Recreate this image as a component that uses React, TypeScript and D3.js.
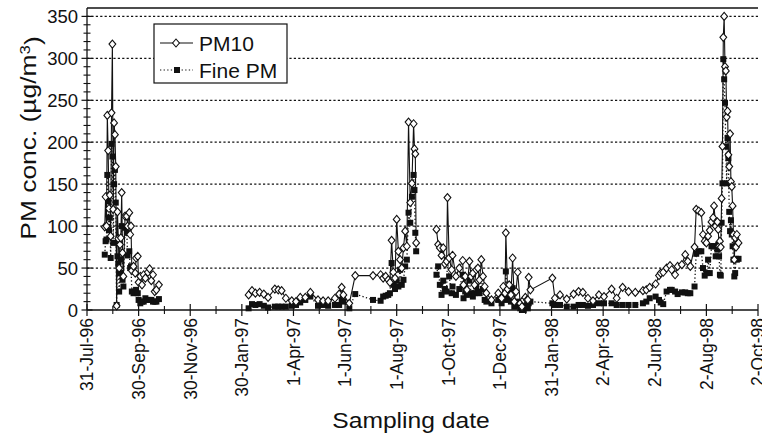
import { useEffect, useRef } from "react";
import * as d3 from "d3";

// sampling dates (null values = no sampling / break in the lines)
const sampleDates = [
  // 1996
  "1996-08-21", "1996-08-22", "1996-08-23", "1996-08-24", "1996-08-25", "1996-08-26", "1996-08-27", "1996-08-28", "1996-08-29", "1996-08-30",
  "1996-08-31", "1996-09-01", "1996-09-02", "1996-09-03", "1996-09-04", "1996-09-05", "1996-09-06", "1996-09-07", "1996-09-08", "1996-09-09",
  "1996-09-10", "1996-09-11", "1996-09-12", "1996-09-14", "1996-09-16", "1996-09-17", "1996-09-19", "1996-09-20", "1996-09-21", "1996-09-22",
  "1996-09-24", "1996-09-26", "1996-09-27", "1996-09-29", "1996-09-30", "1996-10-02", "1996-10-04", "1996-10-06", "1996-10-08", "1996-10-11",
  "1996-10-13", "1996-10-15", "1996-10-17", "1996-10-19", "1996-10-21", "1996-10-24", "1996-12-01",
  // 1997
  "1997-02-07", "1997-02-11", "1997-02-15", "1997-02-20", "1997-02-25", "1997-03-02", "1997-03-10", "1997-03-14", "1997-03-18", "1997-03-23",
  "1997-03-30", "1997-04-04", "1997-04-09", "1997-04-15", "1997-04-21", "1997-04-30", "1997-05-06", "1997-05-12", "1997-05-20", "1997-05-25",
  "1997-05-28", "1997-05-30", "1997-06-06", "1997-06-13", "1997-07-04", "1997-07-13", "1997-07-16", "1997-07-19", "1997-07-22", "1997-07-24",
  "1997-07-26", "1997-07-28", "1997-07-30", "1997-08-01", "1997-08-03", "1997-08-05", "1997-08-07", "1997-08-09", "1997-08-11", "1997-08-13",
  "1997-08-15", "1997-08-17", "1997-08-19", "1997-08-21", "1997-08-22", "1997-08-23", "1997-08-24", "1997-09-05",
  // autumn 1997 - winter 1998
  "1997-09-17", "1997-09-19", "1997-09-21", "1997-09-23", "1997-09-25", "1997-09-27", "1997-09-29", "1997-09-30", "1997-10-02", "1997-10-05",
  "1997-10-06", "1997-10-10", "1997-10-14", "1997-10-18", "1997-10-19", "1997-10-21", "1997-10-23", "1997-10-26", "1997-10-28", "1997-10-30",
  "1997-11-01", "1997-11-03", "1997-11-05", "1997-11-07", "1997-11-09", "1997-11-11", "1997-11-13", "1997-11-15", "1997-11-21", "1997-11-29",
  "1997-12-03", "1997-12-05", "1997-12-07", "1997-12-08", "1997-12-10", "1997-12-12", "1997-12-14", "1997-12-16", "1997-12-18", "1997-12-20",
  "1997-12-22", "1997-12-25", "1997-12-27", "1997-12-29", "1997-12-31", "1998-01-02", "1998-01-03", "1998-01-04", "1998-01-06",
  // 1998
  "1998-02-01", "1998-02-04", "1998-02-10", "1998-02-18", "1998-02-26", "1998-03-04", "1998-03-09", "1998-03-15", "1998-03-21", "1998-03-28",
  "1998-04-03", "1998-04-12", "1998-04-18", "1998-04-25", "1998-05-02", "1998-05-10", "1998-05-19", "1998-05-23", "1998-05-27", "1998-06-03",
  "1998-06-07", "1998-06-09", "1998-06-12", "1998-06-16", "1998-06-20", "1998-06-22", "1998-06-26", "1998-06-29", "1998-07-04", "1998-07-08",
  "1998-07-11", "1998-07-14", "1998-07-19", "1998-07-21", "1998-07-24", "1998-07-27", "1998-07-29", "1998-07-31", "1998-08-02", "1998-08-04",
  "1998-08-06", "1998-08-08", "1998-08-10", "1998-08-11", "1998-08-13", "1998-08-15", "1998-08-16", "1998-08-17", "1998-08-18", "1998-08-19",
  "1998-08-20", "1998-08-21", "1998-08-22", "1998-08-23", "1998-08-24", "1998-08-25", "1998-08-26", "1998-08-27", "1998-08-28", "1998-08-29",
  "1998-08-30", "1998-08-31", "1998-09-01", "1998-09-02", "1998-09-03", "1998-09-04", "1998-09-05", "1998-09-06", "1998-09-07", "1998-09-09",
];

const pm10Values = [
  // 1996
  99, 135, 100, 232, 190, 121, 137, 88, 235, 317,
  120, 223, 209, 171, 5, 117, 85, 50, 78, 86,
  140, 68, 40, 112, 112, 100, 116, 90, 100, 47,
  52, 44, 62, 64, 33, 40, 30, 42, 38, 45,
  49, 35, 42, 22, 24, 30, null,
  // 1997
  18, 23, 20, 21, 19, 15, 25, 24, 23, 14,
  11, 10, 15, 15, 21, 12, 11, 11, 14, 19,
  27, 18, 8, 41, 41, 42, 38, 40, 36, 33,
  83, 45, 38, 108, 70, 60, 50, 74, 94, 76,
  224, 128, 151, 222, 192, 186, 80, null,
  // autumn 1997 - winter 1998
  96, 78, 74, 65, 74, 55, 58, 134, 62, 48,
  65, 40, 50, 59, 30, 40, 24, 58, 40, 44,
  30, 48, 50, 36, 60, 40, 28, 20, 12, 20,
  14, 28, 20, 92, 25, 30, 18, 62, 10, 22,
  45, 8, 4, 12, 15, 12, 12, 39, 24,
  // 1998
  38, 14, 18, 13, 19, 22, 21, 14, 11, 18,
  16, 25, 14, 27, 22, 21, 23, 24, 27, 31,
  41, 44, 45, 50, 53, 48, 42, 52, 54, 66,
  58, 52, 75, 120, 118, 116, 90, 82, 80, 88,
  95, 105, 110, 124, 100, 105, 96, 76, 82, 75,
  133, 195, 325, 350, 290, 285, 230, 237, 185, 171,
  210, 153, 147, 124, 90, 60, 86, 75, 90, 80,
];

const finePMValues = [
  // 1996
  66, 82, 84, 161, 130, 95, 110, 62, 198, 183,
  80, 150, 167, 128, 6, 64, 55, 22, 44, 60,
  100, 36, 28, 98, 92, 65, 70, 50, 52, 22,
  20, 22, 24, 20, 12, 8, 10, 10, 14, 12,
  12, 12, 10, 10, 10, 13, null,
  // 1997
  2, 7, 6, 7, 5, 3, 4, 4, 4, 4,
  5, 6, 9, 12, 16, 5, 6, 5, 6, 6,
  12, 10, 2, 19, 12, 11, 16, 17, 18, 20,
  56, 30, 25, 35, 28, 48, 30, 36, 52, 60,
  116, 104, 135, 161, 143, 92, 70, null,
  // autumn 1997 - winter 1998
  42, 52, 30, 18, 35, 25, 22, 60, 40, 20,
  28, 18, 25, 42, 14, 22, 18, 35, 20, 16,
  20, 28, 22, 20, 38, 25, 12, 10, 8, 12,
  8, 16, 12, 46, 14, 20, 10, 26, 4, 5,
  10, 2, 0, 0, 5, 8, 2, 8, 10,
  // 1998
  8, 6, 6, 4, 4, 6, 6, 5, 6, 8,
  8, 8, 6, 6, 6, 6, 8, 10, 14, 16,
  12, 9, 7, 22, 24, 24, 22, 19, 21, 21,
  20, 20, 28, 67, 70, 70, 50, 41, 44, 60,
  44, 76, 76, 76, 64, 72, 78, 64, 42, 41,
  104, 151, 299, 275, 247, 195, 151, 205, 181, 117,
  94, 107, 90, 76, 60, 40, 44, 61, 60, 61,
];

const xTickDates = [
  "1996-07-31", "1996-09-30", "1996-11-30", "1997-01-30", "1997-04-01", "1997-06-01", "1997-08-01",
  "1997-10-01", "1997-12-01", "1998-01-31", "1998-04-02", "1998-06-02", "1998-08-02", "1998-10-02",
];
const xTickLabels = [
  "31-Jul-96", "30-Sep-96", "30-Nov-96", "30-Jan-97", "1-Apr-97", "1-Jun-97", "1-Aug-97",
  "1-Oct-97", "1-Dec-97", "31-Jan-98", "2-Apr-98", "2-Jun-98", "2-Aug-98", "2-Oct-98",
];
const yTicks = [0, 50, 100, 150, 200, 250, 300, 350];
const seriesNames = ["PM10", "Fine PM"];

const FONT = "'Liberation Sans', Arial, Helvetica, sans-serif";

export default function App() {
  const ref = useRef<SVGSVGElement>(null);

  useEffect(() => {
    const width = 762, height = 438;
    const marginLeft = 87, plotRight = 758, plotTop = 8, plotBottom = 310;

    const svg = d3.select(ref.current);
    svg.selectAll("*").remove();
    svg.attr("width", width).attr("height", height).attr("viewBox", `0 0 ${width} ${height}`);

    const parse = d3.utcParse("%Y-%m-%d");
    const tickDates = xTickDates.map(d => parse(d) as Date);

    const x = d3.scaleUtc()
      .domain([tickDates[0], tickDates[tickDates.length - 1]])
      .range([marginLeft, plotRight]);
    const y = d3.scaleLinear().domain([0, 360]).range([plotBottom, plotTop]);

    const rows = sampleDates.map((d, i) => ({
      date: parse(d) as Date,
      pm10: pm10Values[i],
      fine: finePMValues[i],
    }));

    svg.append("rect").attr("width", width).attr("height", height).attr("fill", "white");

    // dotted grid lines
    svg.append("g")
      .selectAll("line")
      .data(yTicks.filter(t => t > 0))
      .join("line")
        .attr("x1", marginLeft).attr("x2", plotRight)
        .attr("y1", d => y(d)).attr("y2", d => y(d))
        .attr("stroke", "#111").attr("stroke-width", 1.3)
        .attr("stroke-dasharray", "2.2,2.2");

    // frame: top line
    svg.append("line")
      .attr("x1", marginLeft).attr("x2", plotRight)
      .attr("y1", plotTop).attr("y2", plotTop)
      .attr("stroke", "#111").attr("stroke-width", 1.3);

    // y axis
    const yAxis = svg.append("g");
    yAxis.append("line")
      .attr("x1", marginLeft).attr("x2", marginLeft)
      .attr("y1", plotTop).attr("y2", plotBottom)
      .attr("stroke", "#111").attr("stroke-width", 1.3);
    yAxis.selectAll("line.minor")
      .data(d3.range(10, 351, 10).filter(v => v % 50 !== 0))
      .join("line")
        .attr("class", "minor")
        .attr("x1", marginLeft - 3.5).attr("x2", marginLeft + 3.5)
        .attr("y1", d => y(d)).attr("y2", d => y(d))
        .attr("stroke", "#111").attr("stroke-width", 1.1);
    yAxis.selectAll("line.major")
      .data(yTicks)
      .join("line")
        .attr("class", "major")
        .attr("x1", marginLeft - 5.5).attr("x2", marginLeft + 5.5)
        .attr("y1", d => y(d)).attr("y2", d => y(d))
        .attr("stroke", "#111").attr("stroke-width", 1.2);
    yAxis.selectAll("text")
      .data(yTicks)
      .join("text")
        .attr("x", 78)
        .attr("y", d => y(d))
        .attr("dy", "0.36em")
        .attr("text-anchor", "end")
        .attr("font-family", FONT)
        .attr("font-size", 18.5)
        .attr("fill", "#111")
        .text(d => d);

    // x axis
    const xAxis = svg.append("g");
    xAxis.append("line")
      .attr("x1", marginLeft).attr("x2", plotRight)
      .attr("y1", plotBottom).attr("y2", plotBottom)
      .attr("stroke", "#111").attr("stroke-width", 1.3);
    const minorX = tickDates.slice(1).map((d, i) => (x(tickDates[i]) + x(d)) / 2);
    xAxis.selectAll("line.minor")
      .data(minorX)
      .join("line")
        .attr("class", "minor")
        .attr("x1", d => d).attr("x2", d => d)
        .attr("y1", plotBottom - 4).attr("y2", plotBottom + 4)
        .attr("stroke", "#111").attr("stroke-width", 1.1);
    xAxis.selectAll("line.major")
      .data(tickDates)
      .join("line")
        .attr("class", "major")
        .attr("x1", d => x(d)).attr("x2", d => x(d))
        .attr("y1", plotBottom - 6).attr("y2", plotBottom + 6)
        .attr("stroke", "#111").attr("stroke-width", 1.2);
    xAxis.selectAll("text")
      .data(tickDates)
      .join("text")
        .attr("transform", d => `translate(${x(d)},${plotBottom + 8})rotate(-90)`)
        .attr("dy", "0.36em")
        .attr("text-anchor", "end")
        .attr("font-family", FONT)
        .attr("font-size", 17.5)
        .attr("fill", "#111")
        .text((_, i) => xTickLabels[i]);

    // axis titles (the scanned font is wider than Arial)
    svg.append("text")
      .attr("transform", `translate(36,138)rotate(-90)scale(1.2,1)`)
      .attr("text-anchor", "middle")
      .attr("font-family", FONT)
      .attr("font-size", 22)
      .attr("fill", "#111")
      .call(t => {
        t.append("tspan").text("PM conc. (µg/m");
        t.append("tspan").attr("dy", "-0.45em").attr("font-size", 14).text("3");
        t.append("tspan").attr("dy", "0.45em").text(")");
      });
    svg.append("text")
      .attr("transform", "translate(411,428)scale(1.12,1)")
      .attr("text-anchor", "middle")
      .attr("font-family", FONT)
      .attr("font-size", 22)
      .attr("fill", "#111")
      .text("Sampling date");

    // series
    const fineLine = d3.line<any>()
      .defined(d => d.fine !== null)
      .x(d => x(d.date)).y(d => y(d.fine));
    const pmLine = d3.line<any>()
      .defined(d => d.pm10 !== null)
      .x(d => x(d.date)).y(d => y(d.pm10));

    const diamond = (r: number) => `M0,${-r}L${r * 0.85},0L0,${r}L${-r * 0.85},0Z`;

    svg.append("path")
      .datum(rows)
      .attr("d", fineLine)
      .attr("fill", "none")
      .attr("stroke", "#111").attr("stroke-width", 1.3)
      .attr("stroke-dasharray", "1.3,2.3");
    svg.append("g")
      .selectAll("rect")
      .data(rows.filter(d => d.fine !== null))
      .join("rect")
        .attr("x", d => x(d.date) - 3)
        .attr("y", d => y(d.fine as number) - 3)
        .attr("width", 6).attr("height", 6)
        .attr("fill", "#111");

    svg.append("path")
      .datum(rows)
      .attr("d", pmLine)
      .attr("fill", "none")
      .attr("stroke", "#111").attr("stroke-width", 1.1);
    svg.append("g")
      .selectAll("path")
      .data(rows.filter(d => d.pm10 !== null))
      .join("path")
        .attr("transform", d => `translate(${x(d.date)},${y(d.pm10 as number)})`)
        .attr("d", diamond(4))
        .attr("fill", "white")
        .attr("stroke", "#111").attr("stroke-width", 1.1);

    // legend
    const legend = svg.append("g");
    legend.append("rect")
      .attr("x", 154).attr("y", 24).attr("width", 133).attr("height", 59)
      .attr("fill", "white").attr("stroke", "#111").attr("stroke-width", 1.2);
    const items = legend.selectAll("g")
      .data(seriesNames)
      .join("g")
        .attr("transform", (_, i) => `translate(0,${i === 0 ? 43 : 70})`);
    items.append("line")
      .attr("x1", 160).attr("x2", 193)
      .attr("stroke", "#111").attr("stroke-width", 1.2)
      .attr("stroke-dasharray", (_, i) => i === 0 ? null : "1.3,2.3");
    items.each(function (_, i) {
      const g = d3.select(this);
      if (i === 0) {
        g.append("path").attr("transform", "translate(176,0)").attr("d", diamond(4))
          .attr("fill", "white").attr("stroke", "#111").attr("stroke-width", 1.1);
      } else {
        g.append("rect").attr("x", 174).attr("y", -3).attr("width", 6).attr("height", 6).attr("fill", "#111");
      }
    });
    items.append("text")
      .attr("x", 199).attr("dy", "0.36em")
      .attr("font-family", FONT).attr("font-size", 21).attr("fill", "#111")
      .text(d => d);
  }, []);

  return (
    <div style={{ position: "absolute", left: 0, top: 0 }}>
      <svg ref={ref} />
    </div>
  );
}
